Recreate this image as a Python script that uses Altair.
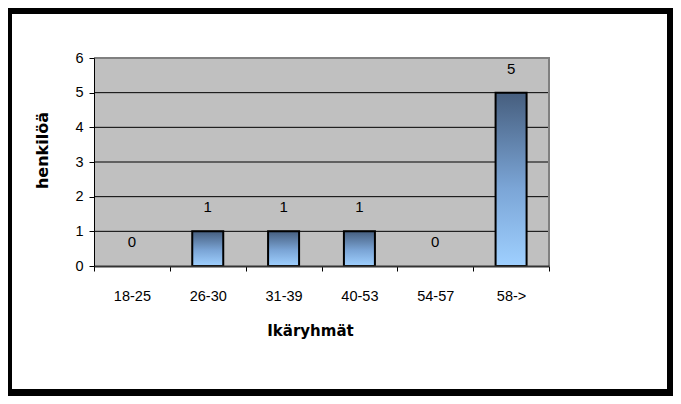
import altair as alt
import pandas as pd

categories = ["18-25", "26-30", "31-39", "40-53", "54-57", "58->"]
counts = [0, 1, 1, 1, 0, 5]
y_ticks = [0, 1, 2, 3, 4, 5, 6]
x_title = "Ikäryhmät"
y_title = "henkilöä"

df = pd.DataFrame({"group": categories, "count": counts})
grid_df = pd.DataFrame({"count": [t for t in y_ticks if 0 < t < max(y_ticks)]})
one = pd.DataFrame({"a": [0]})

W, H = 455, 208
yscale = alt.Scale(domain=[0, 6], nice=False, zero=True)
xscale = alt.Scale(domain=categories, paddingInner=0, paddingOuter=0)

y_axis = alt.Axis(title=y_title, values=y_ticks, grid=False,
                  domainColor="black", tickColor="black", tickSize=5,
                  labelFont="Liberation Sans", labelFontSize=14.5,
                  labelColor="black", labelPadding=6,
                  titleFont="DejaVu Sans", titleFontSize=16,
                  titleFontWeight="bold", titleColor="black",
                  titleAngle=270, titleX=-52, titleY=92,
                  titleAlign="center", titleBaseline="middle",
                  zindex=1)
x_axis = alt.Axis(title=x_title, labelAngle=0, tickBand="extent",
                  domainColor="#333333", domainWidth=2,
                  tickColor="black", tickSize=5,
                  labelFont="Liberation Sans", labelFontSize=14.5,
                  labelColor="black", labelPadding=18,
                  titleFont="DejaVu Sans", titleFontSize=15,
                  titleFontWeight="bold", titleColor="black",
                  titleX=216, titleY=69, titleAlign="center",
                  titleBaseline="alphabetic", zindex=1)

white = alt.Chart(one).mark_rect(color="white").encode(
    x=alt.value(-82), x2=alt.value(573), y=alt.value(-44), y2=alt.value(331)
)
gray = alt.Chart(one).mark_rect(color="#c0c0c0").encode(
    x=alt.value(0), x2=alt.value(W), y=alt.value(0), y2=alt.value(H)
)
top_edge = alt.Chart(one).mark_rule(color="#808080", strokeWidth=2).encode(
    x=alt.value(0), x2=alt.value(W + 1), y=alt.value(0)
)
right_edge = alt.Chart(one).mark_rule(color="#808080", strokeWidth=2).encode(
    x=alt.value(W), y=alt.value(0), y2=alt.value(H)
)
grid = alt.Chart(grid_df).mark_rule(color="black", strokeWidth=1).encode(
    y=alt.Y("count:Q", scale=yscale, axis=y_axis),
    x=alt.value(0), x2=alt.value(W),
)

gradient = alt.Gradient(
    gradient="linear",
    stops=[
        alt.GradientStop(color="#465e7e", offset=0),
        alt.GradientStop(color="#7ba5d6", offset=0.55),
        alt.GradientStop(color="#9fd0ff", offset=1),
    ],
    x1=0, x2=0, y1=0, y2=1,
)

bars = alt.Chart(df).transform_filter("datum.count > 0").mark_bar(
    size=31, fill=gradient, stroke="black", strokeWidth=2
).encode(
    x=alt.X("group:N", scale=xscale, sort=categories, axis=x_axis),
    y=alt.Y("count:Q", scale=yscale, axis=y_axis),
)

labels = alt.Chart(df).mark_text(
    font="Liberation Sans", fontSize=15, color="black", baseline="alphabetic", dy=-19
).encode(
    x=alt.X("group:N", scale=xscale, sort=categories, axis=x_axis),
    y=alt.Y("count:Q", scale=yscale, axis=y_axis),
    text="count:Q",
)

chart = alt.layer(white, gray, grid, bars, top_edge, right_edge, labels).properties(
    width=W, height=H,
    background="black",
    padding={"left": 86, "top": 50, "right": 124, "bottom": 130},
    autosize=alt.AutoSizeParams(type="none"),
).configure_view(stroke=None)

chart.save("out.html", embed_options={"renderer": "svg", "actions": False})
